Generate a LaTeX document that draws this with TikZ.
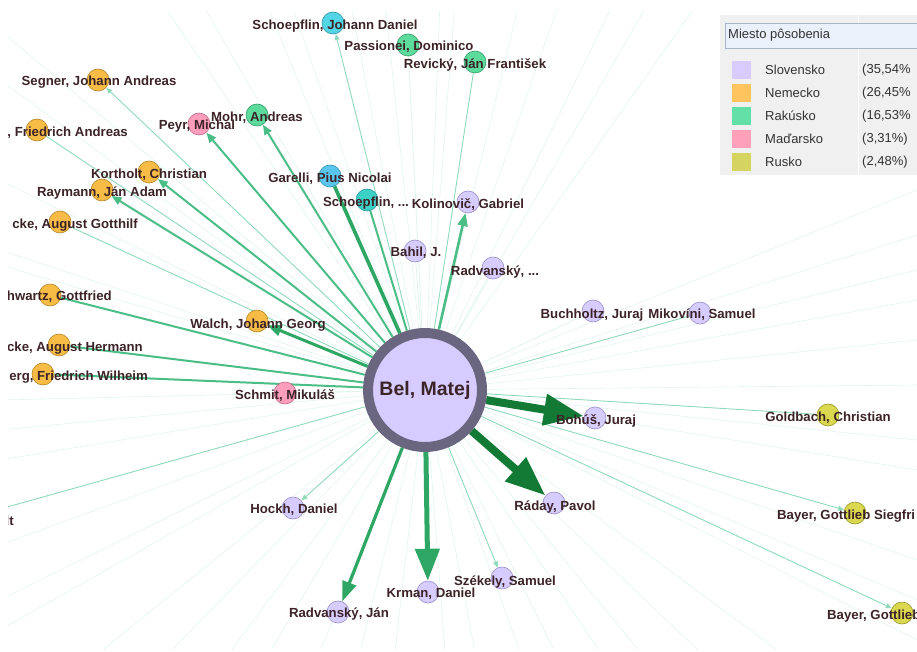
\documentclass[tikz,border=0pt]{standalone}
\usepackage{fontspec}
\setmainfont{Liberation Sans}
\usetikzlibrary{arrows.meta,backgrounds}

\definecolor{txt}{HTML}{3C2328}
\definecolor{slovF}{HTML}{D6CCFF}
\definecolor{slovD}{HTML}{9A90C6}
\definecolor{nemF}{HTML}{F7BC45}
\definecolor{nemD}{HTML}{B48728}
\definecolor{rakF}{HTML}{5CDB9C}
\definecolor{rakD}{HTML}{369A68}
\definecolor{madF}{HTML}{FF9DBD}
\definecolor{madD}{HTML}{BE6A88}
\definecolor{rusF}{HTML}{D9D84E}
\definecolor{rusD}{HTML}{97962E}
\definecolor{cyanF}{HTML}{52D5E4}
\definecolor{blueF}{HTML}{5AC6EE}
\definecolor{tealF}{HTML}{3CD1C6}
\definecolor{cyanD}{HTML}{3196A6}
\definecolor{belRing}{HTML}{6B6680}
\definecolor{linkA}{HTML}{E2F5ED}
\definecolor{linkB}{HTML}{8EDABA}
\definecolor{linkC}{HTML}{4BBD86}
\definecolor{linkD}{HTML}{2EA765}
\definecolor{linkE}{HTML}{137A35}
\definecolor{legBg}{HTML}{F0F0F0}
\definecolor{legField}{HTML}{EAF1FA}
\definecolor{legLine}{HTML}{A9B6C6}
\definecolor{legTxt}{HTML}{333333}
\definecolor{legSlov}{HTML}{D8CCFF}
\definecolor{legNem}{HTML}{FFC45E}
\definecolor{legRak}{HTML}{62E0A8}
\definecolor{legMad}{HTML}{FFA0BA}
\definecolor{legRus}{HTML}{D6D460}

\tikzset{
  person/.style={circle, minimum size=22pt, inner sep=0pt, line width=0.6pt},
  slov/.style={person, fill=slovF, draw=slovD},
  nem/.style={person, fill=nemF, draw=nemD},
  rak/.style={person, fill=rakF, draw=rakD},
  mad/.style={person, fill=madF, draw=madD},
  rus/.style={person, fill=rusF, draw=rusD},
  lbl/.style={font=\bfseries\fontsize{13.2}{15}\selectfont, text=txt, inner sep=0pt},
  bglink/.style={draw=linkA, line width=0.6pt},
  weaklink/.style={draw=linkB, line width=0.9pt},
  midlink/.style={draw=linkC, line width=2pt},
  stronglink/.style={draw=linkD, line width=3.2pt},
  heavylink/.style={draw=linkE, line width=8pt, -{Triangle[length=40pt,width=30pt]}},
  smalltip/.style={-{Triangle[length=6pt,width=5pt]}},
  midtip/.style={-{Triangle[length=10pt,width=8pt]}},
  legtxt/.style={font=\fontsize{13}{15}\selectfont, text=legTxt, inner sep=0pt, anchor=west}
}

\begin{document}
\begin{tikzpicture}[x=1pt, y=-1pt]
    \useasboundingbox (0,0) rectangle (917,652);

    \begin{scope}
    \clip (8,12) rectangle (917,648);

    % Center
    \node[circle, minimum size=114pt, line width=10pt, draw=belRing, fill=slovF,
          font=\bfseries\fontsize{19.5}{22}\selectfont, text=txt] (bel) at (425,390) {Bel, Matej};

    % People
    \node[person, fill=cyanF, draw=cyanD] (schjd) at (333,23) {};
    \node[lbl] (schjd-l) at (335,26) {Schoepflin, Johann Daniel};
    \node[rak] (passionei) at (408,45) {};
    \node[lbl] (passionei-l) at (409,47) {Passionei, Dominico};
    \node[rak] (revicky) at (475,62) {};
    \node[lbl] (revicky-l) at (475,65) {Revický, Ján František};
    \node[nem] (segner) at (98,80) {};
    \node[lbl] (segner-l) at (99,82) {Segner, Johann Andreas};
    \node[mad] (peyr) at (199,124) {};
    \node[lbl] (peyr-l) at (197,126) {Peyr, Michal};
    \node[rak] (mohr) at (257,115) {};
    \node[lbl] (mohr-l) at (257,118) {Mohr, Andreas};
    \node[nem] (hallb) at (37,130) {};
    \node[lbl, anchor=east] (hallb-l) at (128,133) {, Friedrich Andreas};
    \node[nem] (kortholt) at (149,172) {};
    \node[lbl] (kortholt-l) at (149,175) {Kortholt, Christian};
    \node[nem] (raymann) at (102,190) {};
    \node[lbl] (raymann-l) at (102,193) {Raymann, Ján Adam};
    \node[nem] (gotthilf) at (60,222) {};
    \node[lbl, anchor=east] (gotthilf-l) at (138,225) {cke, August Gotthilf};
    \node[nem] (schwartz) at (50,295) {};
    \node[lbl, anchor=east] (schwartz-l) at (112,297) {hwartz, Gottfried};
    \node[nem] (hermann) at (59,345) {};
    \node[lbl, anchor=east] (hermann-l) at (143,348) {cke, August Hermann};
    \node[nem] (wilheim) at (43,374) {};
    \node[lbl, anchor=east] (wilheim-l) at (148,377) {erg, Friedrich Wilheim};
    \node[nem] (walch) at (257,321) {};
    \node[lbl] (walch-l) at (258,325) {Walch, Johann Georg};
    \node[mad] (schmit) at (285,393) {};
    \node[lbl] (schmit-l) at (285,396) {Schmit, Mikuláš};
    \node[person, fill=blueF, draw=cyanD] (garelli) at (330,176) {};
    \node[lbl] (garelli-l) at (330,179) {Garelli, Pius Nicolai};
    \node[person, fill=tealF, draw=cyanD] (schoep) at (367,200) {};
    \node[lbl] (schoep-l) at (366,203) {Schoepflin, ...};
    \node[slov] (kolinovic) at (468,202) {};
    \node[lbl] (kolinovic-l) at (468,205) {Kolinovič, Gabriel};
    \node[slov] (bahil) at (415,251) {};
    \node[lbl] (bahil-l) at (416,253) {Bahil, J.};
    \node[slov] (radvA) at (493,268) {};
    \node[lbl] (radvA-l) at (495,272) {Radvanský, ...};
    \node[slov] (buchholtz) at (593,311) {};
    \node[lbl] (buchholtz-l) at (592,315) {Buchholtz, Juraj};
    \node[slov] (mikovini) at (700,313) {};
    \node[lbl] (mikovini-l) at (702,315) {Mikovíni, Samuel};
    \node[slov] (bohus) at (595,418) {};
    \node[lbl] (bohus-l) at (596,421) {Bohúš, Juraj};
    \node[rus] (goldbach) at (828,415) {};
    \node[lbl] (goldbach-l) at (828,418) {Goldbach, Christian};
    \node[slov] (hockh) at (293,508) {};
    \node[lbl] (hockh-l) at (294,510) {Hockh, Daniel};
    \node[slov] (raday) at (554,503) {};
    \node[lbl] (raday-l) at (555,507) {Ráday, Pavol};
    \node[rus] (bayerA) at (855,513) {};
    \node[lbl, anchor=west] (bayerA-l) at (777,516) {Bayer, Gottlieb Siegfri};
    \node[slov] (szekely) at (502,578) {};
    \node[lbl] (szekely-l) at (505,582) {Székely, Samuel};
    \node[slov] (krman) at (428,592) {};
    \node[lbl] (krman-l) at (431,594) {Krman, Daniel};
    \node[slov] (radvJ) at (338,612) {};
    \node[lbl] (radvJ-l) at (339,614) {Radvanský, Ján};
    \node[rus] (bayerB) at (902,613) {};
    \node[lbl, anchor=west] (bayerB-l) at (827,616) {Bayer, Gottlieb};
    \coordinate (ltend) at (0,509);
    \node[lbl, anchor=east] (lt-l) at (14,521) {lt};
    \end{scope}

    % Links
    \begin{pgfonlayer}{background}
    \clip (8,12) rectangle (917,648);
    \foreach \px/\py [count=\k] in {160/0, 200/0, 265/0, 290/0, 350/0, 385/0, 440/0, 455/0,
        520/0, 560/0, 615/0, 650/0, 700/0, 917/190, 917/235, 917/270, 917/300, 917/340,
        917/385, 917/440, 917/470, 917/560, 917/600, 917/640, 100/652, 170/652, 230/652,
        270/652, 320/652, 360/652, 395/652, 445/652, 475/652, 520/652, 555/652, 600/652,
        640/652, 700/652, 780/652, 0/30, 0/80, 0/180, 0/250, 0/265, 0/400, 0/430, 0/460,
        0/545, 0/600, 0/630} {
      \coordinate (far\k) at (\px,\py);
      \draw[bglink] (bel) -- (far\k);
    }
    \foreach \p in {passionei, bahil, radvA, buchholtz, schmit}
      \draw[bglink, line width=0.9pt] (bel) -- (\p);
    \foreach \p in {revicky, hallb, gotthilf, goldbach, mikovini, ltend}
      \draw[weaklink] (bel) -- (\p);
    \foreach \p in {schjd, segner, bayerA, bayerB, szekely, hockh}
      \draw[weaklink, smalltip] (bel) -- (\p);
    \foreach \p in {schwartz, hermann, wilheim, schoep}
      \draw[midlink] (bel) -- (\p);
    \foreach \p in {mohr, peyr, kortholt, raymann}
      \draw[midlink, midtip] (bel) -- (\p);
    \draw[midlink, line width=2.6pt, -{Triangle[length=13pt,width=10pt]}] (bel) -- (kolinovic);
    \draw[stronglink, line width=3.6pt] (bel) -- (garelli);
    \draw[stronglink, line width=3pt, -{Triangle[length=14pt,width=11pt]}] (bel) -- (walch);
    \draw[stronglink, -{Triangle[length=20pt,width=14pt]}] (bel) -- (radvJ);
    \draw[stronglink, line width=5pt, -{Triangle[length=32pt,width=24pt]}] (bel) -- (krman);
    \draw[heavylink] (bel) -- (bohus);
    \draw[heavylink] (bel) -- (raday);
    \end{pgfonlayer}

    % Legend
    \fill[legBg] (720,15) rectangle (917,175);
    \draw[white, line width=1pt] (858,15) -- (858,175);
    \draw[fill=legField, draw=legLine] (725,23) rectangle (918,48);
    \node[legtxt] (legtitle) at (728,35.5) {Miesto pôsobenia};
    \foreach \c/\t/\q [count=\i] in {legSlov/Slovensko/{(35,54\%}, legNem/Nemecko/{(26,45\%},
        legRak/Rakúsko/{(16,53\%}, legMad/Maďarsko/{(3,31\%)}, legRus/Rusko/{(2,48\%)}} {
      \fill[\c] (732,{61+23*(\i-1)}) rectangle (751,{79+23*(\i-1)});
      \node[legtxt] (leg\i) at (765,{70+23*(\i-1)}) {\t};
      \node[legtxt] (pct\i) at (862,{70+23*(\i-1)}) {\q};
    }

\end{tikzpicture}
\end{document}
